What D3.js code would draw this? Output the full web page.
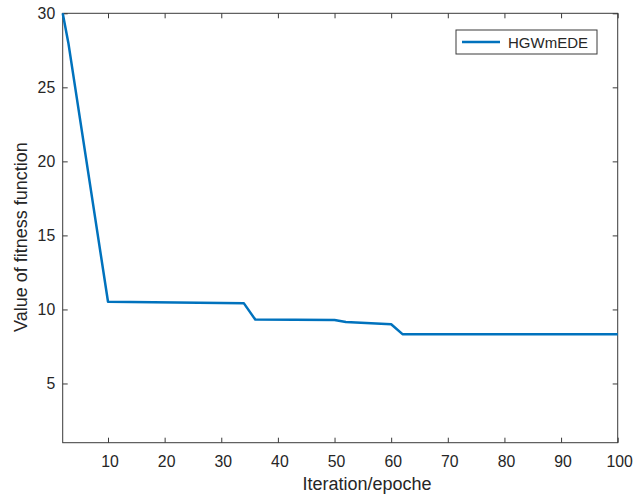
<!DOCTYPE html>
<html>
<head>
<meta charset="utf-8">
<script src="https://cdn.jsdelivr.net/npm/d3@7"></script>
<style>
  html, body { margin: 0; padding: 0; background: #fff; }
  svg { display: block; font-family: "Liberation Sans", Arial, Helvetica, sans-serif; }
</style>
</head>
<body>
<svg id="chart" width="635" height="498"></svg>
<script>
// ---- data ----
const iterations = [2, 3, 10, 34, 36, 50, 52, 60, 62, 100];
const fitness    = [30, 28, 10.52, 10.41, 9.32, 9.28, 9.15, 9.0, 8.33, 8.33];
const seriesName = "HGWmEDE";
const xTicks = [10, 20, 30, 40, 50, 60, 70, 80, 90, 100];
const yTicks = [5, 10, 15, 20, 25, 30];
const xLabel = "Iteration/epoche";
const yLabel = "Value of fitness function";

// ---- layout ----
const L = 62.7, R = 617.7, T = 13.3, B = 442.7;
const axisColor = "#3a3a3a";
const textColor = "#262626";
const lineColor = "#0072BD";

const svg = d3.select("#chart");
const x = d3.scaleLinear().domain([2, 100]).range([L, R]);
const y = d3.scaleLinear().domain([1, 30]).range([B, T]);

function styleAxis(g, showLabels) {
  g.select(".domain").remove();
  g.selectAll(".tick line").attr("stroke", axisColor).attr("stroke-width", 1);
  g.selectAll(".tick text").attr("fill", textColor).style("font-size", "15.8px");
  if (!showLabels) g.selectAll(".tick text").remove();
}

// bottom axis
svg.append("g").attr("transform", `translate(0,${B})`)
  .call(d3.axisBottom(x).tickValues(xTicks).tickSizeInner(-5).tickSizeOuter(0).tickPadding(13.5))
  .call(g => styleAxis(g, true))
  .call(g => g.selectAll(".tick text").attr("dx", "1.5"));
// top axis (ticks only)
svg.append("g").attr("transform", `translate(0,${T})`)
  .call(d3.axisTop(x).tickValues(xTicks).tickSizeInner(-5).tickSizeOuter(0))
  .call(g => styleAxis(g, false));
// left axis
svg.append("g").attr("transform", `translate(${L},0)`)
  .call(d3.axisLeft(y).tickValues(yTicks).tickSizeInner(-5).tickSizeOuter(0).tickPadding(7.5))
  .call(g => styleAxis(g, true));
// right axis (ticks only)
svg.append("g").attr("transform", `translate(${R},0)`)
  .call(d3.axisRight(y).tickValues(yTicks).tickSizeInner(-5).tickSizeOuter(0))
  .call(g => styleAxis(g, false));

// frame
svg.append("rect")
  .attr("x", L).attr("y", T).attr("width", R - L).attr("height", B - T)
  .attr("fill", "none").attr("stroke", axisColor).attr("stroke-width", 1);

// line
const pts = iterations.map((d, i) => [d, fitness[i]]);
svg.append("path")
  .datum(pts)
  .attr("fill", "none")
  .attr("stroke", lineColor)
  .attr("stroke-width", 2.5)
  .attr("stroke-linejoin", "round")
  .attr("d", d3.line().x(d => x(d[0])).y(d => y(d[1])));

// axis labels
svg.append("text")
  .attr("x", 367).attr("y", 490)
  .attr("text-anchor", "middle")
  .attr("fill", textColor)
  .style("font-size", "18px")
  .text(xLabel);
svg.append("text")
  .attr("transform", "translate(27,332) rotate(-90)")
  .attr("text-anchor", "start")
  .attr("fill", textColor)
  .style("font-size", "18px")
  .text(yLabel);

// legend
const lg = svg.append("g");
lg.append("rect")
  .attr("x", 456).attr("y", 30).attr("width", 141).attr("height", 24)
  .attr("fill", "#fff").attr("stroke", axisColor).attr("stroke-width", 1);
lg.append("line")
  .attr("x1", 462).attr("x2", 500).attr("y1", 42).attr("y2", 42)
  .attr("stroke", lineColor).attr("stroke-width", 2.5);
lg.append("text")
  .attr("x", 508).attr("y", 47.5)
  .attr("fill", textColor)
  .style("font-size", "15px")
  .text(seriesName);
</script>
</body>
</html>
